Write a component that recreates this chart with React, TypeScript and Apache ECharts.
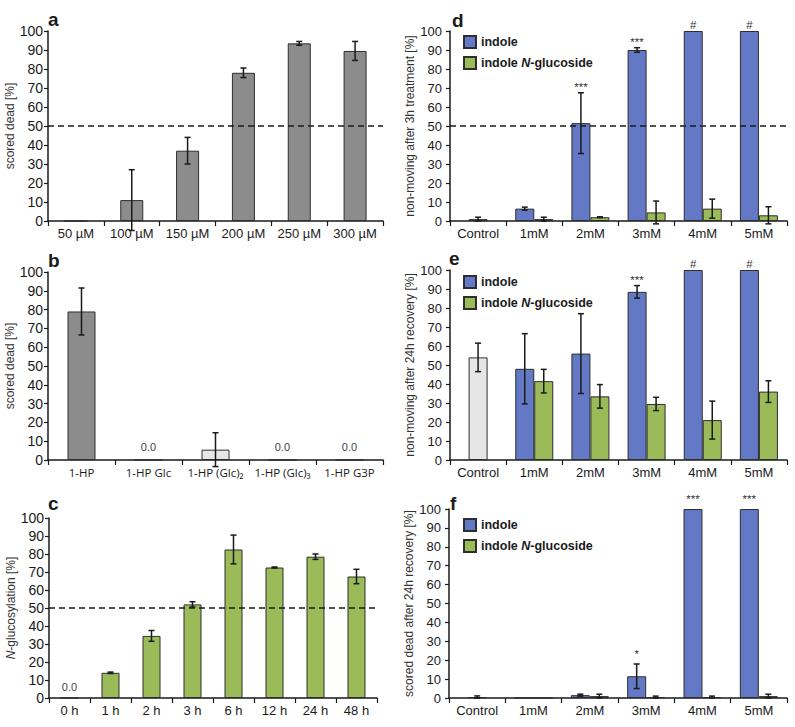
import React, { useEffect, useRef } from "react";
import * as echarts from "echarts";

// ---------- DATA ----------
const aCategories = ["50 µM", "100 µM", "150 µM", "200 µM", "250 µM", "300 µM"];
const aValues = [0, 11, 37, 78, 93.5, 89.5];
const aErrors = [0, 16, 7, 2.5, 1, 5];

const bCategories = ["1-HP", "1-HP Glc", "1-HP (Glc)₂", "1-HP (Glc)₃", "1-HP G3P"];
const bValues = [79, 0, 5.5, 0, 0];
const bErrors = [12.5, 0, 9, 0, 0];

const cCategories = ["0 h", "1 h", "2 h", "3 h", "6 h", "12 h", "24 h", "48 h"];
const cValues = [0, 14, 34.5, 52, 82.5, 72.5, 78.5, 67.5];
const cErrors = [0, 0.4, 3, 1.5, 8, 0.3, 1.5, 4];

const doseCategories = ["Control", "1mM", "2mM", "3mM", "4mM", "5mM"];
const seriesNames = ["indole", "indole N-glucoside"];

const dControl = 1;
const dControlErr = 1;
const dIndole = [null, 6.5, 51.5, 90, 100, 100];
const dIndoleErr = [0, 0.8, 16, 1.2, 0, 0];
const dIndoleMarks = ["", "", "***", "***", "#", "#"];
const dGlucoside = [null, 1, 2, 4.5, 6.5, 3];
const dGlucosideErr = [0, 1, 0.2, 6, 5, 4.5];

const eControl = 54;
const eControlErr = 7.5;
const eIndole = [null, 48, 56, 88.5, 100, 100];
const eIndoleErr = [0, 18.5, 21, 3.3, 0, 0];
const eIndoleMarks = ["", "", "", "***", "#", "#"];
const eGlucoside = [null, 41.5, 33.5, 29.5, 21, 36];
const eGlucosideErr = [0, 6.2, 6.2, 3.5, 10, 5.7];

const fControl = 0.5;
const fControlErr = 0.6;
const fIndole = [null, 0, 1.5, 11.5, 100, 100];
const fIndoleErr = [0, 0, 0.5, 6.5, 0, 0];
const fIndoleMarks = ["", "", "", "*", "***", "***"];
const fGlucoside = [null, 0, 1, 0.5, 0.5, 1];
const fGlucosideErr = [0, 0, 1, 0.5, 0.5, 1];

// ---------- STYLE ----------
const FONT = "'Liberation Sans', Arial, sans-serif";
const BLUE = "#6379c6";
const GREEN = "#9bbb59";
const GRAY = "#8c8c8c";
const LIGHT = "#e6e6e6";
const BORDER = "#2e2e2e";
const INK = "#1a1a1a";

const grids = [
  { left: 48, top: 31, width: 335, height: 190 },
  { left: 48, top: 272, width: 335, height: 188 },
  { left: 49, top: 518, width: 328, height: 180 },
  { left: 450, top: 31, width: 337, height: 190 },
  { left: 450, top: 270, width: 337, height: 190 },
  { left: 449, top: 509, width: 338, height: 189 },
];

function makeX(gridIndex: number, data: string[], fontSize: number, fontFamily = FONT) {
  return {
    type: "category",
    gridIndex,
    data,
    axisLine: { show: true, lineStyle: { color: INK, width: 1.5 } },
    axisTick: { show: true, length: 5, lineStyle: { color: INK, width: 1.2 } },
    axisLabel: { fontFamily, fontSize, color: INK, margin: 6, interval: 0 },
    splitLine: { show: false },
  };
}

function makeY(gridIndex: number, name: string, left: boolean, rich?: any) {
  return {
    type: "value",
    gridIndex,
    min: 0,
    max: 100,
    interval: 10,
    name,
    nameLocation: "middle",
    nameGap: left ? 26 : 29,
    nameTextStyle: { fontFamily: FONT, fontSize: 12, color: "#333", rich },
    axisLine: { show: true, lineStyle: { color: INK, width: 1.5 } },
    axisTick: { show: true, length: 4, lineStyle: { color: INK, width: 1.2 } },
    axisLabel: { fontFamily: FONT, fontSize: left ? 14 : 13, color: INK, margin: left ? 5 : 8 },
    splitLine: { show: false },
  };
}

function errorSeries(
  xAxisIndex: number,
  yAxisIndex: number,
  values: (number | null)[],
  errors: number[],
  marks: string[] | null,
  offset: number,
  markGap = 6
) {
  const data: number[][] = [];
  values.forEach((v, i) => {
    if (v != null) data.push([i, v, errors[i]]);
  });
  return {
    type: "custom",
    xAxisIndex,
    yAxisIndex,
    clip: false,
    silent: true,
    z: 5,
    data,
    renderItem: (params: any, api: any) => {
      const i = api.value(0);
      const v = api.value(1);
      const e = api.value(2);
      const hi = api.coord([i, v + e]);
      const lo = api.coord([i, v - e]);
      const x = hi[0] + offset;
      const children: any[] = [];
      if (e > 0) {
        const st = { stroke: INK, lineWidth: 1.5 };
        children.push({ type: "line", shape: { x1: x, y1: hi[1], x2: x, y2: lo[1] }, style: st });
        children.push({ type: "line", shape: { x1: x - 3, y1: hi[1], x2: x + 3, y2: hi[1] }, style: st });
        children.push({ type: "line", shape: { x1: x - 3, y1: lo[1], x2: x + 3, y2: lo[1] }, style: st });
      }
      const m = marks ? marks[i] : "";
      if (m) {
        children.push({
          type: "text",
          style: {
            text: m,
            x,
            y: hi[1] - markGap,
            align: "center",
            verticalAlign: "middle",
            fontSize: 11.5,
            fontFamily: FONT,
            fill: "#333",
          },
        });
      }
      return { type: "group", children };
    },
  };
}

const dashed50 = {
  silent: true,
  symbol: "none",
  label: { show: false },
  lineStyle: { type: [6, 4], color: INK, width: 1.5 },
  data: [{ yAxis: 50 }],
};

function zeroLabels(values: number[], distance: number) {
  return values.map((v) =>
    v === 0
      ? {
          value: v,
          label: {
            show: true,
            position: "top",
            distance,
            formatter: (p: any) => Number(p.value).toFixed(1),
            fontFamily: FONT,
            fontSize: 11,
            color: "#444",
          },
        }
      : v
  );
}

const barStyle = (color: string) => ({ color, borderColor: BORDER, borderWidth: 1 });

function dosePanel(
  grid: number,
  hiddenX: number,
  control: number,
  controlErr: number,
  indole: (number | null)[],
  indoleErr: number[],
  marks: string[],
  gluc: (number | null)[],
  glucErr: number[],
  withLine: boolean,
  markGap: number
) {
  const controlData = doseCategories.map((_, i) => (i === 0 ? control : null));
  return [
    {
      type: "bar",
      name: "Control",
      xAxisIndex: hiddenX,
      yAxisIndex: grid,
      barWidth: 19,
      data: controlData,
      itemStyle: barStyle(LIGHT),
    },
    {
      type: "bar",
      name: seriesNames[0],
      xAxisIndex: grid,
      yAxisIndex: grid,
      barWidth: 19,
      barGap: "0%",
      data: indole,
      itemStyle: barStyle(BLUE),
      markLine: withLine ? dashed50 : undefined,
    },
    {
      type: "bar",
      name: seriesNames[1],
      xAxisIndex: grid,
      yAxisIndex: grid,
      barWidth: 19,
      barGap: "0%",
      data: gluc,
      itemStyle: barStyle(GREEN),
    },
    errorSeries(grid, grid, controlData, [controlErr, 0, 0, 0, 0, 0], null, 0),
    errorSeries(grid, grid, indole, indoleErr, marks, -9.5, markGap),
    errorSeries(grid, grid, gluc, glucErr, null, 9.5),
  ];
}

const legendRich = {
  b: { fontFamily: FONT, fontSize: 12.5, fontWeight: "bold", color: INK },
  i: { fontFamily: FONT, fontSize: 12.5, fontWeight: "bold", fontStyle: "italic", color: INK },
};

function makeLegend(left: number, top: number) {
  return {
    left,
    top,
    padding: 0,
    orient: "vertical",
    icon: "rect",
    itemWidth: 12,
    itemHeight: 12,
    itemGap: 7,
    data: seriesNames,
    selectedMode: false,
    formatter: (name: string) =>
      name === "indole N-glucoside" ? "{b|indole }{i|N}{b|-glucoside}" : "{b|" + name + "}",
    textStyle: { rich: legendRich },
  };
}

function letter(text: string, x: number, baseline: number) {
  return {
    type: "text",
    x,
    y: baseline,
    style: {
      text,
      fontFamily: FONT,
      fontSize: 19,
      fontWeight: "bold",
      fill: INK,
      verticalAlign: "bottom",
    },
  };
}

function buildOption() {
  return {
    animation: false,
    backgroundColor: "#fff",
    grid: grids.map((g) => ({ ...g, containLabel: false })),
    xAxis: [
      makeX(0, aCategories, 13),
      makeX(1, bCategories, 11.5, "'Open Sans', 'Liberation Sans', sans-serif"),
      makeX(2, cCategories, 13),
      makeX(3, doseCategories, 13),
      makeX(4, doseCategories, 13),
      makeX(5, doseCategories, 13),
      { type: "category", gridIndex: 3, data: doseCategories, show: false },
      { type: "category", gridIndex: 4, data: doseCategories, show: false },
      { type: "category", gridIndex: 5, data: doseCategories, show: false },
    ],
    yAxis: [
      makeY(0, "scored dead [%]", true),
      makeY(1, "scored dead [%]", true),
      makeY(2, "{i|N}-glucosylation [%]", true, {
        i: { fontFamily: FONT, fontSize: 12, fontStyle: "italic", color: "#333" },
      }),
      makeY(3, "non-moving after 3h treatment [%]", false),
      makeY(4, "non-moving after 24h recovery [%]", false),
      makeY(5, "scored dead after 24h recovery [%]", false),
    ],
    legend: [makeLegend(463, 35), makeLegend(463, 275), makeLegend(463, 518)],
    graphic: [
      letter("a", 48, 29),
      letter("b", 48, 270),
      letter("c", 48, 513),
      letter("d", 452, 30),
      letter("e", 449, 268),
      letter("f", 450, 513),
    ],
    series: [
      {
        type: "bar",
        name: "a",
        xAxisIndex: 0,
        yAxisIndex: 0,
        barWidth: 23,
        data: aValues,
        itemStyle: barStyle(GRAY),
        markLine: dashed50,
      },
      errorSeries(0, 0, aValues, aErrors, null, 0),
      {
        type: "bar",
        name: "b",
        xAxisIndex: 1,
        yAxisIndex: 1,
        barWidth: 28,
        data: zeroLabels(bValues, 7),
        itemStyle: {
          color: (p: any) => (p.dataIndex === 0 ? GRAY : LIGHT),
          borderColor: BORDER,
          borderWidth: 1,
        },
      },
      errorSeries(1, 1, bValues, bErrors, null, 0),
      {
        type: "bar",
        name: "c",
        xAxisIndex: 2,
        yAxisIndex: 2,
        barWidth: 18,
        data: zeroLabels(cValues, 5),
        itemStyle: barStyle(GREEN),
        markLine: dashed50,
      },
      errorSeries(2, 2, cValues, cErrors, null, 0),
      ...dosePanel(3, 6, dControl, dControlErr, dIndole, dIndoleErr, dIndoleMarks, dGlucoside, dGlucosideErr, true, 6),
      ...dosePanel(4, 7, eControl, eControlErr, eIndole, eIndoleErr, eIndoleMarks, eGlucoside, eGlucosideErr, false, 6),
      ...dosePanel(5, 8, fControl, fControlErr, fIndole, fIndoleErr, fIndoleMarks, fGlucoside, fGlucosideErr, false, 10),
    ],
  };
}

export default function App() {
  const ref = useRef<HTMLDivElement>(null);
  useEffect(() => {
    if (!ref.current) return;
    const chart = echarts.init(ref.current, undefined, { renderer: "svg" });
    chart.setOption(buildOption() as any);
    return () => chart.dispose();
  }, []);
  return (
    <div
      ref={ref}
      style={{ position: "absolute", left: 0, top: 0, width: 795, height: 727, background: "#fff" }}
    />
  );
}
